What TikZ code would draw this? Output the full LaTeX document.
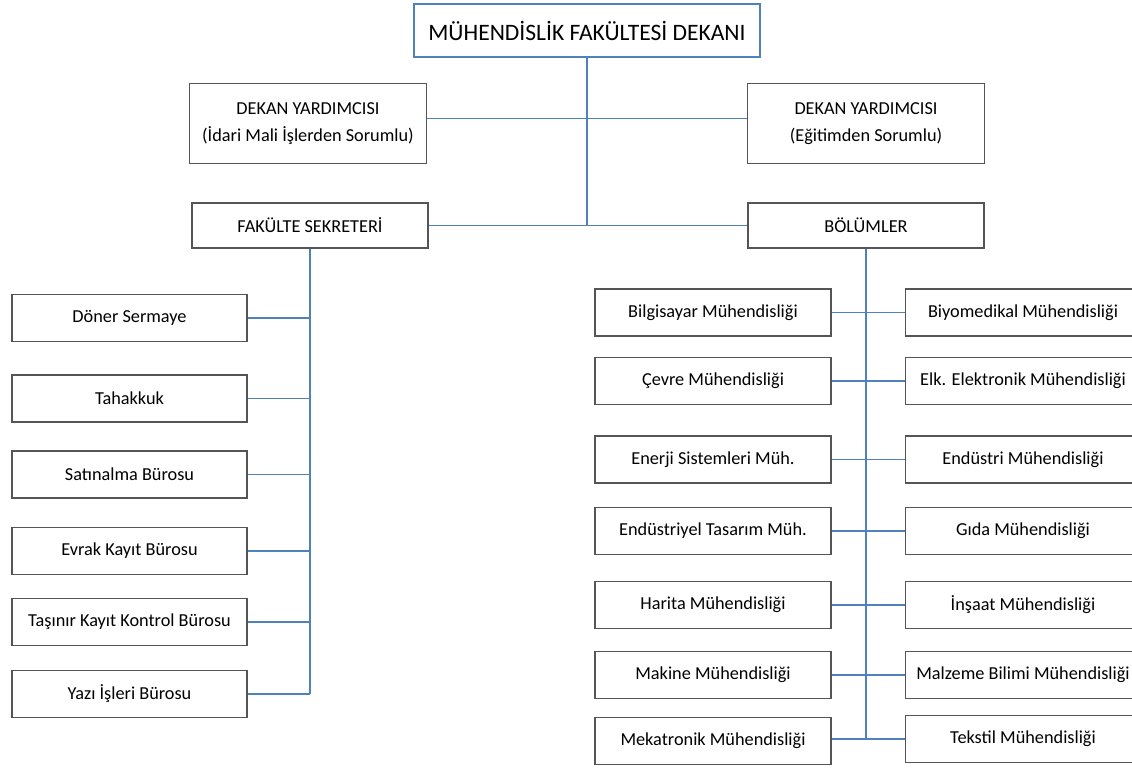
\documentclass[tikz,border=0pt]{standalone}
\usepackage{fontspec}
\setmainfont{Carlito}
\usepackage{tikz}
\usetikzlibrary{positioning}
\definecolor{linkblue}{RGB}{79,129,189}
\definecolor{boxgray}{RGB}{85,85,85}

\tikzset{
  unit/.style={draw=boxgray, line width=1pt, fill=white, inner sep=0pt, align=center,
    minimum width=4.7cm, minimum height=0.94cm, font=\fontsize{10.4}{15}\selectfont},
  head/.style={unit, minimum width=4.74cm, minimum height=1.6cm},
  link/.style={draw=linkblue, line width=0.8pt},
  strong link/.style={link, line width=1.3pt}
}

\begin{document}
\begin{tikzpicture}[x=0.02cm, y=-0.02cm]
\useasboundingbox (0,0) rectangle (1132,772);
%\node {\includegraphics{orgchart.jpg}};
\node[unit, draw=linkblue, line width=0.8pt, minimum width=6.92cm, minimum height=1.06cm,
  font=\fontsize{13.4}{15}\selectfont] (dekan) at (587,30.5) {MÜHENDİSLİK FAKÜLTESİ DEKANI};
\node[head] (yrdidari) at (308,123.5) {DEKAN YARDIMCISI\\(İdari Mali İşlerden Sorumlu)};
\node[head] (yrdegitim) at (866,123.5) {DEKAN YARDIMCISI\\(Eğitimden Sorumlu)};
\node[unit, minimum width=4.72cm, minimum height=0.9cm] (sekreter) at (310,225.5) {FAKÜLTE SEKRETERİ};
\node[unit, minimum width=4.72cm, minimum height=0.9cm] (bolumler) at (866,225.5) {BÖLÜMLER};

% sekreterlik birimleri
\node[unit] (doner) at (129.5,318) {Döner Sermaye};
\node[unit] (tahakkuk) at (129.5,398.5) {Tahakkuk};
\node[unit] (satinalma) at (129.5,474.5) {Satınalma Bürosu};
\node[unit] (evrak) at (129.5,551) {Evrak Kayıt Bürosu};
\node[unit] (tasinir) at (129.5,622) {Taşınır Kayıt Kontrol Bürosu};
\node[unit] (yazi) at (129.5,694) {Yazı İşleri Bürosu};

% bolumler
\node[unit, minimum width=4.72cm] (bilgisayar) at (713,312.5) {Bilgisayar Mühendisliği};
\node[unit, minimum width=4.72cm] (cevre) at (713,381) {Çevre Mühendisliği};
\node[unit, minimum width=4.72cm] (enerji) at (713,459.5) {Enerji Sistemleri Müh.};
\node[unit, minimum width=4.72cm] (tasarim) at (713,531) {Endüstriyel Tasarım Müh.};
\node[unit, minimum width=4.72cm] (harita) at (713,605) {Harita Mühendisliği};
\node[unit, minimum width=4.72cm] (makine) at (713,675) {Makine Mühendisliği};
\node[unit, minimum width=4.72cm] (mekatronik) at (713,741) {Mekatronik Mühendisliği};
\node[unit] (biyomedikal) at (1023,312.5) {Biyomedikal Mühendisliği};
\node[unit] (elektronik) at (1023,381) {Elk. Elektronik Mühendisliği};
\node[unit] (endustri) at (1023,459.5) {Endüstri Mühendisliği};
\node[unit] (gida) at (1023,531) {Gıda Mühendisliği};
\node[unit] (insaat) at (1023,605) {İnşaat Mühendisliği};
\node[unit] (malzeme) at (1023,675) {Malzeme Bilimi Mühendisliği};
\node[unit] (tekstil) at (1023,739) {Tekstil Mühendisliği};

% baglantilar
\draw[link] (dekan.south) -- (dekan.south |- sekreter.east);
\draw[link] ([yshift=0.1cm]yrdidari.east) -- ([yshift=0.1cm]yrdegitim.west);
\draw[link] (sekreter.east) -- (bolumler.west);
\draw[link] (sekreter.south) -- (sekreter.south |- yazi.east);
\draw[strong link] (doner.east) -- (sekreter.south |- doner.east);
\draw[link] (tahakkuk.east) -- (sekreter.south |- tahakkuk.east);
\draw[link] (satinalma.east) -- (sekreter.south |- satinalma.east);
\draw[link] (evrak.east) -- (sekreter.south |- evrak.east);
\draw[link] (tasinir.east) -- (sekreter.south |- tasinir.east);
\draw[link] (yazi.east) -- (sekreter.south |- yazi.east);
\draw[link] (bolumler.south) -- (bolumler.south |- tekstil.west);
\draw[link] (bilgisayar.east) -- (biyomedikal.west);
\draw[link] (cevre.east) -- (elektronik.west);
\draw[link] (enerji.east) -- (endustri.west);
\draw[link] (tasarim.east) -- (gida.west);
\draw[link] (harita.east) -- (insaat.west);
\draw[link] (makine.east) -- (malzeme.west);
\draw[strong link] (mekatronik.east |- tekstil.west) -- (tekstil.west);
\end{tikzpicture}
\end{document}
